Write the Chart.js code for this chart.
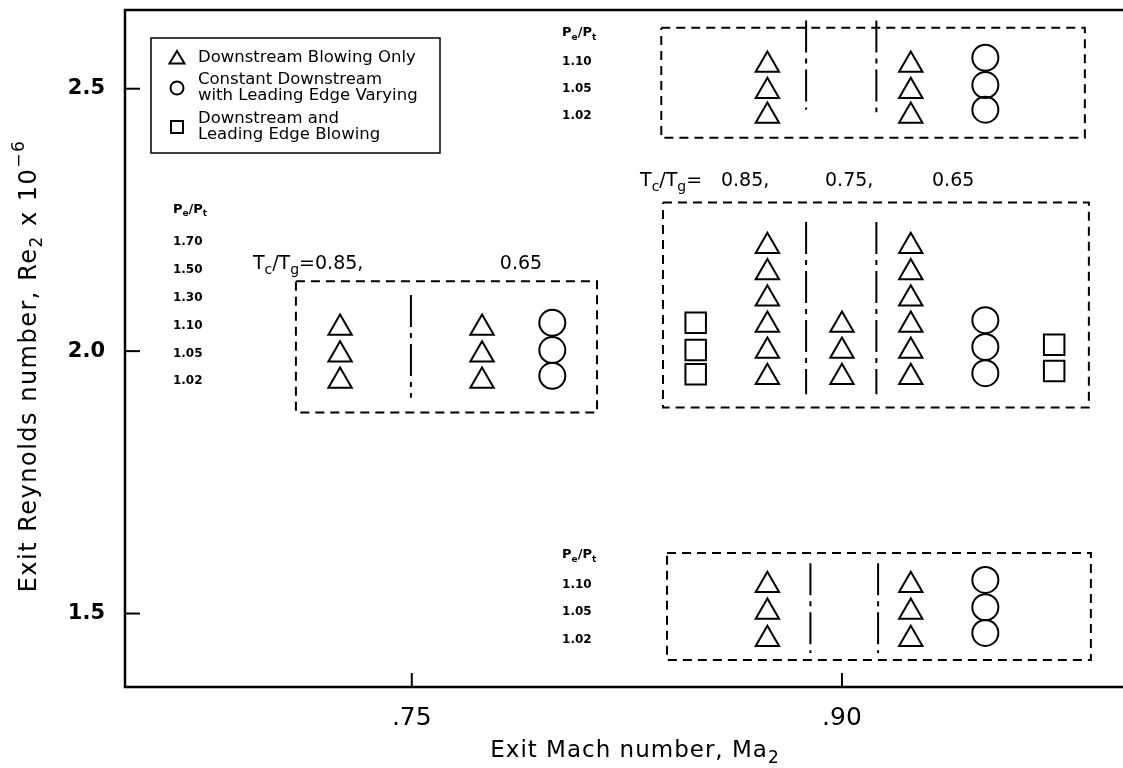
<!DOCTYPE html>
<html>
<head>
<meta charset="utf-8">
<script src="https://cdn.jsdelivr.net/npm/chart.js@4/dist/chart.umd.min.js"></script>
<style>
  html, body { margin: 0; padding: 0; background: #fff; }
  #wrap { width: 1123px; height: 768px; position: relative; }
</style>
</head>
<body>
<div id="wrap"><canvas id="grafico"></canvas></div>
<script>
// ---- axes ----
const xTicks = [0.75, 0.90];
const xTickLabels = [".75", ".90"];
const yTicks = [1.5, 2.0, 2.5];
const yTickLabels = ["1.5", "2.0", "2.5"];

// ---- Downstream Blowing Only (triangles) ----
const triMach = [
  0.874, 0.874, 0.874, 0.924, 0.924, 0.924,
  0.874, 0.874, 0.874, 0.874, 0.874, 0.874,
  0.900, 0.900, 0.900,
  0.924, 0.924, 0.924, 0.924, 0.924, 0.924,
  0.725, 0.725, 0.725, 0.7745, 0.7745, 0.7745,
  0.874, 0.874, 0.874, 0.924, 0.924, 0.924
];
const triRe = [
  2.545, 2.495, 2.448, 2.545, 2.495, 2.448,
  2.20, 2.15, 2.10, 2.05, 2.00, 1.95,
  2.05, 2.00, 1.95,
  2.20, 2.15, 2.10, 2.05, 2.00, 1.95,
  2.044, 1.993, 1.943, 2.044, 1.993, 1.943,
  1.554, 1.503, 1.451, 1.554, 1.503, 1.451
];

// ---- Constant Downstream with Leading Edge Varying (circles) ----
const circMach = [0.950, 0.950, 0.950, 0.950, 0.950, 0.950, 0.799, 0.799, 0.799, 0.950, 0.950, 0.950];
const circRe   = [2.559, 2.507, 2.460, 2.059, 2.008, 1.958, 2.054, 2.002, 1.953, 1.564, 1.512, 1.463];

// ---- Downstream and Leading Edge Blowing (squares) ----
const sqMach = [0.849, 0.849, 0.849, 0.974, 0.974];
const sqRe   = [2.054, 2.002, 1.956, 2.012, 1.962];

// ---- dashed group boxes (Mach / Re) ----
const boxLeft   = [0.837, 0.8376, 0.7096, 0.839];
const boxRight  = [0.9847, 0.9861, 0.8146, 0.9868];
const boxTop    = [2.616, 2.283, 2.133, 1.6155];
const boxBottom = [2.4065, 1.8926, 1.8831, 1.4114];

// ---- separators between Tc/Tg groups ----
const sepMach   = [0.8875, 0.912, 0.8875, 0.912, 0.7497, 0.889, 0.9126];
const sepTop    = [2.630, 2.630, 2.246, 2.246, 2.107, 1.596, 1.596];
const sepBottom = [2.460, 2.455, 1.918, 1.918, 1.911, 1.425, 1.425];

// ---- Pe/Pt label columns ----
const pLeft = ["1.70", "1.50", "1.30", "1.10", "1.05", "1.02"];
const pLeftRe = [2.208, 2.155, 2.101, 2.048, 1.995, 1.943];
const pSmall = ["1.10", "1.05", "1.02"];
const pTopRe = [2.551, 2.499, 2.448];
const pBotRe = [1.554, 1.503, 1.450];

// ---- Tc/Tg labels ----
const tcBig = ["0.85,", "0.75,", "0.65"];
const tcBigMach = [0.8578, 0.8941, 0.9314];

function pts(xs, ys) {
  return xs.map((x, i) => ({ x: x, y: ys[i] }));
}

let datasets = [];

// caixas tracejadas
for (let i = 0; i < boxLeft.length; i++) {
  datasets.push({
    data: [
      { x: boxLeft[i], y: boxTop[i] }, { x: boxRight[i], y: boxTop[i] },
      { x: boxRight[i], y: boxBottom[i] }, { x: boxLeft[i], y: boxBottom[i] },
      { x: boxLeft[i], y: boxTop[i] }
    ],
    showLine: true, pointRadius: 0, borderColor: "#000", borderWidth: 2,
    borderDash: [9, 6], fill: false
  });
}
// separadores
for (let i = 0; i < sepMach.length; i++) {
  datasets.push({
    data: [{ x: sepMach[i], y: sepTop[i] }, { x: sepMach[i], y: sepBottom[i] }],
    showLine: true, pointRadius: 0, borderColor: "#000", borderWidth: 2,
    borderDash: [32, 6, 5, 6], fill: false
  });
}

const marker = { borderColor: "#000", backgroundColor: "rgba(0,0,0,0)", pointBorderWidth: 2, showLine: false };
datasets.push(Object.assign({ label: "Downstream Blowing Only", data: pts(triMach, triRe), pointStyle: "triangle", pointRadius: 13.5 }, marker));
datasets.push(Object.assign({ label: "Constant Downstream with Leading Edge Varying", data: pts(circMach, circRe), pointStyle: "circle", pointRadius: 13 }, marker));
datasets.push(Object.assign({ label: "Downstream and Leading Edge Blowing", data: pts(sqMach, sqRe), pointStyle: "rect", pointRadius: 14.5 }, marker));

// texto com subscritos (1) e sobrescritos (2)
function drawRich(ctx, parts, x, y, size, weight, align) {
  const fontOf = p => weight + " " + (p[1] ? Math.round(size * 0.72) : size) + "px 'DejaVu Sans'";
  let w = 0;
  parts.forEach(p => { ctx.font = fontOf(p); w += ctx.measureText(p[0]).width; });
  let cx = align === "center" ? x - w / 2 : x;
  parts.forEach(p => {
    ctx.font = fontOf(p);
    const dy = p[1] === 1 ? size * 0.32 : (p[1] === 2 ? -size * 0.42 : 0);
    ctx.fillText(p[0], cx, y + dy);
    cx += ctx.measureText(p[0]).width;
  });
}

const PePt = [["P", 0], ["e", 1], ["/P", 0], ["t", 1]];
const TcTg = [["T", 0], ["c", 1], ["/T", 0], ["g", 1]];

const anotacoes = {
  id: "anotacoes",
  afterDatasetsDraw(chart) {
    const ctx = chart.ctx;
    const xs = chart.scales.x, ys = chart.scales.y;
    const ca = chart.chartArea;
    ctx.save();
    ctx.fillStyle = "#000";
    ctx.strokeStyle = "#000";
    ctx.textBaseline = "middle";
    ctx.textAlign = "left";

    // moldura (esquerda, topo, base) e ticks internos
    ctx.lineWidth = 2.5;
    ctx.beginPath();
    ctx.moveTo(chart.width, ca.top);
    ctx.lineTo(ca.left, ca.top);
    ctx.lineTo(ca.left, ca.bottom);
    ctx.lineTo(chart.width, ca.bottom);
    ctx.stroke();
    ctx.lineWidth = 2;
    yTicks.forEach(v => {
      const py = ys.getPixelForValue(v);
      ctx.beginPath(); ctx.moveTo(ca.left, py); ctx.lineTo(ca.left + 15, py); ctx.stroke();
    });
    xTicks.forEach(v => {
      const px = xs.getPixelForValue(v);
      ctx.beginPath(); ctx.moveTo(px, ca.bottom); ctx.lineTo(px, ca.bottom - 14); ctx.stroke();
    });

    // colunas Pe/Pt
    const X = v => xs.getPixelForValue(v), Y = v => ys.getPixelForValue(v);
    drawRich(ctx, PePt, X(0.6667), Y(2.269), 13, "bold");
    pLeft.forEach((t, i) => drawRich(ctx, [[t, 0]], X(0.6667), Y(pLeftRe[i]), 12, "bold"));
    drawRich(ctx, PePt, X(0.8024), Y(2.606), 13, "bold");
    pSmall.forEach((t, i) => drawRich(ctx, [[t, 0]], X(0.8024), Y(pTopRe[i]), 12, "bold"));
    drawRich(ctx, PePt, X(0.8024), Y(1.6115), 13, "bold");
    pSmall.forEach((t, i) => drawRich(ctx, [[t, 0]], X(0.8024), Y(pBotRe[i]), 12, "bold"));

    // Tc/Tg
    drawRich(ctx, TcTg.concat([["=", 0]]), X(0.8296), Y(2.324), 19, "normal");
    tcBig.forEach((t, i) => drawRich(ctx, [[t, 0]], X(tcBigMach[i]), Y(2.324), 19, "normal"));
    drawRich(ctx, TcTg.concat([["=0.85,", 0]]), X(0.6946), Y(2.165), 19, "normal");
    drawRich(ctx, [["0.65", 0]], X(0.7807), Y(2.165), 19, "normal");

    // legenda
    const lx = ca.left + 26, ly = ca.top + 28;
    ctx.lineWidth = 1.5;
    ctx.strokeRect(lx, ly, 289, 115);
    ctx.lineWidth = 2;
    const mx = lx + 26;
    ctx.beginPath();
    ctx.moveTo(mx, ly + 13); ctx.lineTo(mx + 7.5, ly + 25.5); ctx.lineTo(mx - 7.5, ly + 25.5); ctx.closePath();
    ctx.stroke();
    ctx.beginPath(); ctx.arc(mx, ly + 50, 6.5, 0, Math.PI * 2); ctx.stroke();
    ctx.strokeRect(mx - 6, ly + 83, 12, 12);
    const tx = lx + 47;
    ctx.font = "16.5px 'DejaVu Sans'";
    ctx.fillText("Downstream Blowing Only", tx, ly + 20);
    ctx.fillText("Constant Downstream", tx, ly + 42);
    ctx.fillText("with Leading Edge Varying", tx, ly + 58);
    ctx.fillText("Downstream and", tx, ly + 81);
    ctx.fillText("Leading Edge Blowing", tx, ly + 97);

    // títulos dos eixos
    ctx.letterSpacing = "1px";
    drawRich(ctx, [["Exit Mach number, Ma", 0], ["2", 1]], 635, 751, 23, "normal", "center");
    ctx.translate(30, 366);
    ctx.rotate(-Math.PI / 2);
    ctx.letterSpacing = "1.5px";
    drawRich(ctx, [["Exit Reynolds number, Re", 0], ["2", 1], [" x 10", 0], ["\u22126", 2]], 0, 0, 24, "normal", "center");
    ctx.restore();
  }
};

Chart.defaults.font.family = "'DejaVu Sans'";
Chart.defaults.color = "#000";

new Chart(document.getElementById("grafico"), {
  type: "scatter",
  data: { datasets: datasets },
  options: {
    responsive: true,
    maintainAspectRatio: false,
    animation: false,
    events: [],
    layout: { autoPadding: false, padding: { top: 10, right: 0, left: 0, bottom: 0 } },
    plugins: { legend: { display: false }, tooltip: { enabled: false } },
    scales: {
      x: {
        type: "linear", min: 0.65, max: 0.998,
        afterFit(s) { s.height = 81; s.paddingLeft = 0; s.paddingRight = 0; },
        afterBuildTicks(s) { s.ticks = xTicks.map(v => ({ value: v })); },
        grid: { display: false, drawTicks: false },
        border: { display: false },
        ticks: {
          padding: 16, font: { size: 25 },
          callback: (v) => xTickLabels[xTicks.indexOf(v)]
        }
      },
      y: {
        type: "linear", min: 1.36, max: 2.65,
        afterFit(s) { s.width = 125; s.paddingTop = 0; s.paddingBottom = 0; },
        afterBuildTicks(s) { s.ticks = yTicks.map(v => ({ value: v })); },
        grid: { display: false, drawTicks: false },
        border: { display: false },
        ticks: {
          padding: 20, font: { size: 21, weight: "bold" },
          callback: (v) => yTickLabels[yTicks.indexOf(v)]
        }
      }
    }
  },
  plugins: [anotacoes]
});
</script>
</body>
</html>
